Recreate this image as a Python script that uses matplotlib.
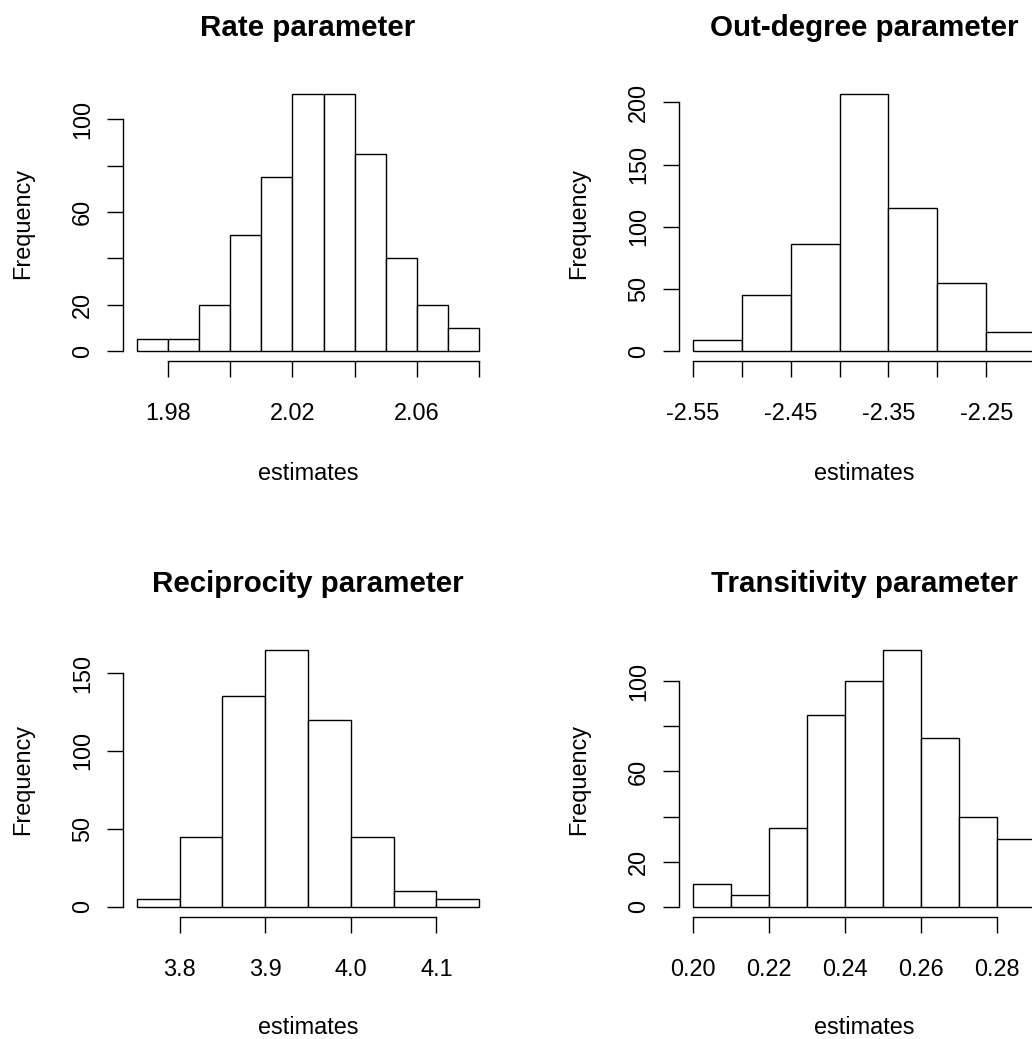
import matplotlib
matplotlib.use("Agg")
import matplotlib.pyplot as plt
import numpy as np

plt.rcParams['font.family'] = ['Liberation Sans', 'DejaVu Sans']

# ---------------- data ----------------
rate_left = [1.97, 1.98, 1.99, 2.00, 2.01, 2.02, 2.03, 2.04, 2.05, 2.06, 2.07]
rate_width = 0.01
rate_counts = [5, 5, 20, 50, 75, 111, 111, 85, 40, 20, 10]
rate_xticks = [1.98, 2.00, 2.02, 2.04, 2.06, 2.08]
rate_xlabels = ['1.98', '', '2.02', '', '2.06', '']
rate_yticks = [0, 20, 40, 60, 80, 100]
rate_ylabels = ['0', '20', '', '60', '', '100']

out_left = [-2.55, -2.50, -2.45, -2.40, -2.35, -2.30, -2.25]
out_width = 0.05
out_counts = [9, 45, 86, 207, 115, 55, 15]
out_xticks = [-2.55, -2.50, -2.45, -2.40, -2.35, -2.30, -2.25, -2.20]
out_xlabels = ['-2.55', '', '-2.45', '', '-2.35', '', '-2.25', '']
out_yticks = [0, 50, 100, 150, 200]
out_ylabels = ['0', '50', '100', '150', '200']

rec_left = [3.75, 3.80, 3.85, 3.90, 3.95, 4.00, 4.05, 4.10]
rec_width = 0.05
rec_counts = [5, 45, 135, 165, 120, 45, 10, 5]
rec_xticks = [3.8, 3.9, 4.0, 4.1]
rec_xlabels = ['3.8', '3.9', '4.0', '4.1']
rec_yticks = [0, 50, 100, 150]
rec_ylabels = ['0', '50', '100', '150']

tra_left = [0.20, 0.21, 0.22, 0.23, 0.24, 0.25, 0.26, 0.27, 0.28]
tra_width = 0.01
tra_counts = [10, 5, 35, 85, 100, 114, 75, 40, 30]
tra_xticks = [0.20, 0.22, 0.24, 0.26, 0.28]
tra_xlabels = ['0.20', '0.22', '0.24', '0.26', '0.28']
tra_yticks = [0, 20, 40, 60, 80, 100]
tra_ylabels = ['0', '20', '', '60', '', '100']

titles = ['Rate parameter', 'Out-degree parameter',
          'Reciprocity parameter', 'Transitivity parameter']

# ---------------- layout ----------------
W, H, DPI = 1032, 1039, 100
fig = plt.figure(figsize=(W / DPI, H / DPI), dpi=DPI, facecolor='white')

PX = 72.0 / DPI  # points per pixel
FS = 23.5 * PX
TFS = 29.5 * PX
LW = 1.0

col_x = [(123, 493), (679, 1049)]
row_y = [(83.5, 361.3), (639.5, 917.0)]
xlab_base = [480, 1034]


def rect(x0, x1, y0, y1):
    return [x0 / W, 1 - y1 / H, (x1 - x0) / W, (y1 - y0) / H]


panels = [
    (rate_left, rate_width, rate_counts, rate_xticks, rate_xlabels, rate_yticks, rate_ylabels),
    (out_left, out_width, out_counts, out_xticks, out_xlabels, out_yticks, out_ylabels),
    (rec_left, rec_width, rec_counts, rec_xticks, rec_xlabels, rec_yticks, rec_ylabels),
    (tra_left, tra_width, tra_counts, tra_xticks, tra_xlabels, tra_yticks, tra_ylabels),
]

for i, (left, width, counts, xt, xl, yt, yl) in enumerate(panels):
    r, c = divmod(i, 2)
    x0, x1 = col_x[c]
    y0, y1 = row_y[r]
    ax = fig.add_axes(rect(x0, x1, y0, y1))
    ax.set_facecolor('none')
    ax.bar(left, counts, width=width, align='edge', facecolor='white',
           edgecolor='black', linewidth=LW, clip_on=False)
    lo = left[0]
    hi = left[-1] + width
    pad = 0.04 * (hi - lo)
    ax.set_xlim(lo - pad, hi + pad)
    ymax = max(counts)
    ax.set_ylim(-0.04 * ymax, 1.04 * ymax)

    for s in ['top', 'right']:
        ax.spines[s].set_visible(False)
    ax.spines['left'].set_bounds(yt[0], yt[-1])
    ax.spines['bottom'].set_bounds(xt[0], xt[-1])
    for s in ['left', 'bottom']:
        ax.spines[s].set_linewidth(LW)

    ax.set_xticks(xt, xl)
    ax.set_yticks(yt, yl)
    ax.tick_params(axis='both', direction='out', length=16 * PX, width=LW,
                   labelsize=FS, colors='black')
    ax.tick_params(axis='x', pad=25 * PX)
    ax.tick_params(axis='y', pad=13 * PX, labelrotation=90)
    for lab in ax.get_yticklabels():
        lab.set_verticalalignment('center')

    ax.set_title(titles[i], fontsize=TFS, fontweight='bold', pad=47 * PX)

    # axis titles
    cx = (x0 + x1) / 2
    cy = (y0 + y1) / 2
    fig.text(cx / W, 1 - xlab_base[r] / H, 'estimates', ha='center',
             va='baseline', fontsize=FS)
    fig.text((22.5 + 556 * c) / W, 1 - (cy + 1.5) / H, 'Frequency', ha='center',
             va='center', rotation=90, fontsize=FS)

fig.savefig('out.png', dpi=DPI, facecolor='white')
